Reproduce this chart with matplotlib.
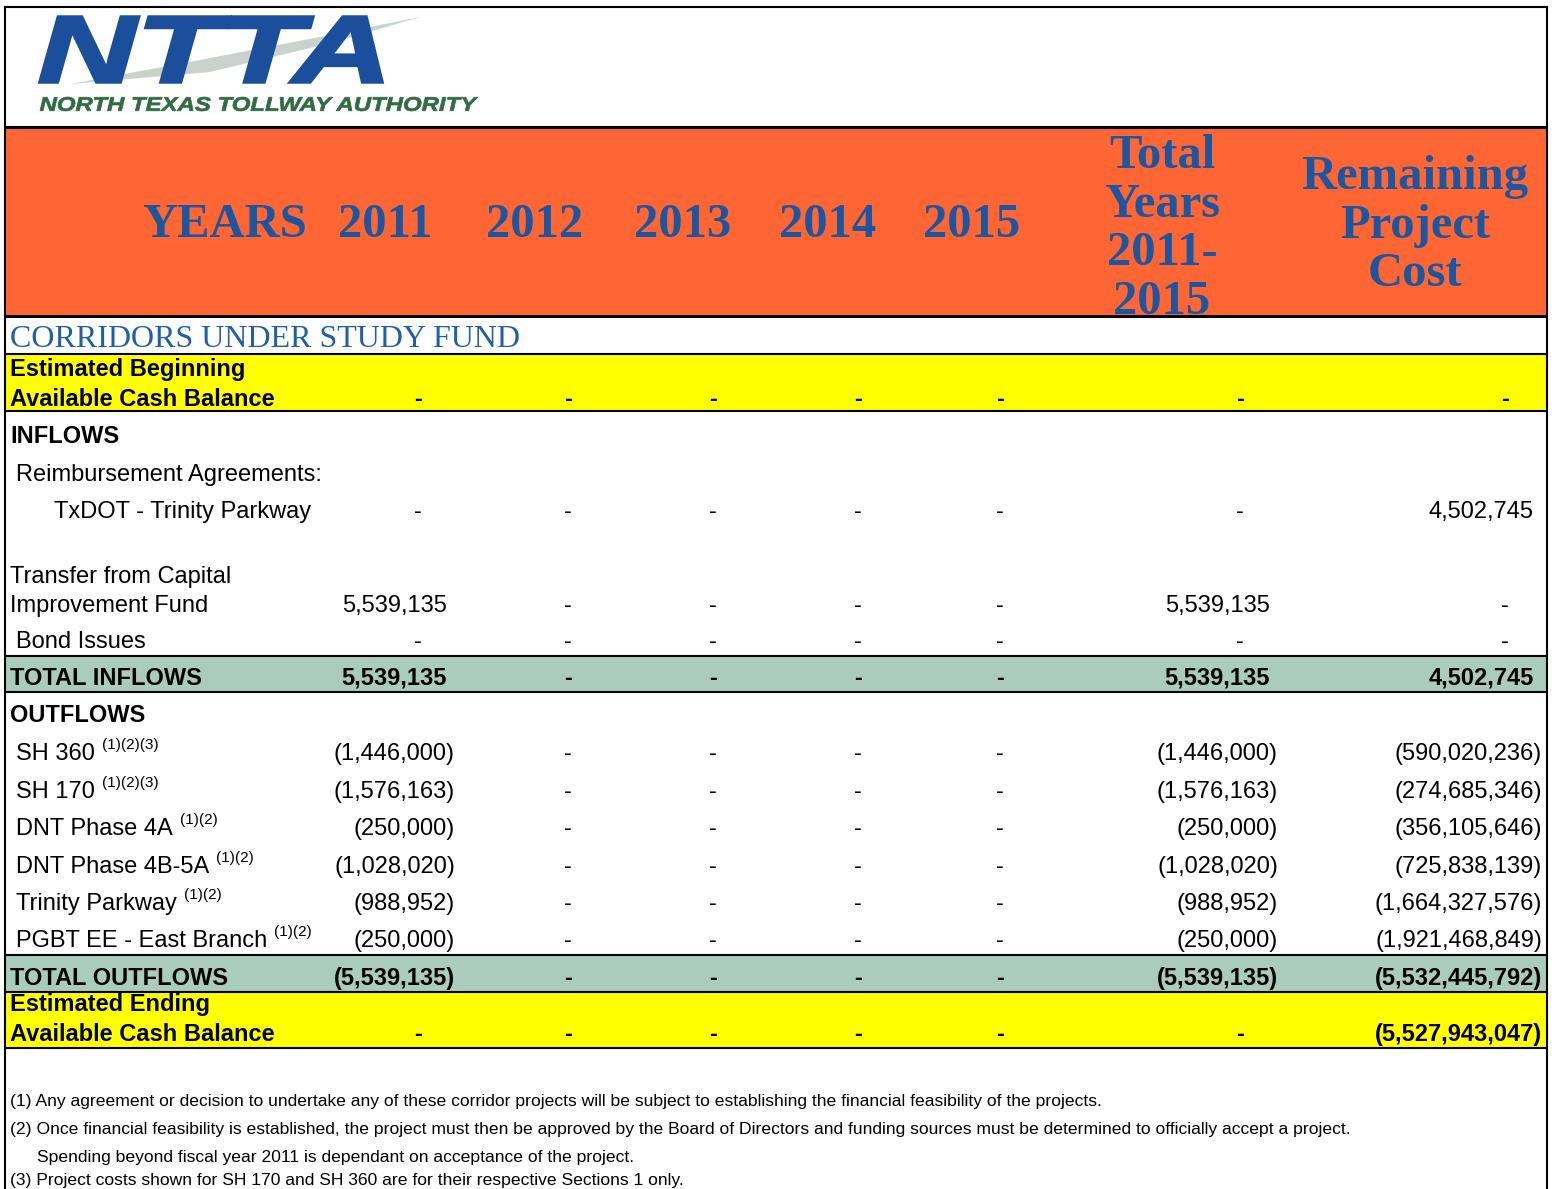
import matplotlib
matplotlib.use("Agg")
import matplotlib.pyplot as plt
from matplotlib.font_manager import FontProperties
from matplotlib.patches import PathPatch, Rectangle, Polygon
from matplotlib.textpath import TextPath
from matplotlib.transforms import Affine2D

# ---- data (columns: 2011..2015, total 2011-2015, remaining project cost) ----
years = ["2011", "2012", "2013", "2014", "2015"]
total_header = ["Total", "Years", "2011-", "2015"]
remaining_header = ["Remaining", "Project", "Cost"]

begin_balance = [0, 0, 0, 0, 0, 0, 0]
txdot_trinity = [0, 0, 0, 0, 0, 0, 4502745]
transfer_cif = [5539135, 0, 0, 0, 0, 5539135, 0]
bond_issues = [0, 0, 0, 0, 0, 0, 0]
total_inflows = [5539135, 0, 0, 0, 0, 5539135, 4502745]

outflow_labels = ["SH 360", "SH 170", "DNT Phase 4A", "DNT Phase 4B-5A",
                  "Trinity Parkway", "PGBT EE - East Branch"]
outflow_notes = ["(1)(2)(3)", "(1)(2)(3)", "(1)(2)", "(1)(2)", "(1)(2)", "(1)(2)"]
outflow_2011 = [-1446000, -1576163, -250000, -1028020, -988952, -250000]
outflow_total = [-1446000, -1576163, -250000, -1028020, -988952, -250000]
outflow_remaining = [-590020236, -274685346, -356105646, -725838139,
                     -1664327576, -1921468849]
total_outflows = [-5539135, 0, 0, 0, 0, -5539135, -5532445792]
end_balance = [0, 0, 0, 0, 0, 0, -5527943047]

footnotes = [
    "(1) Any agreement or decision to undertake any of these corridor projects will be subject to establishing the financial feasibility of the projects.",
    "(2) Once financial feasibility is established, the project must then be approved by the Board of Directors and funding sources must be determined to officially accept a project.",
    "Spending beyond fiscal year 2011 is dependant on acceptance of the project.",
    "(3) Project costs shown for SH 170 and SH 360 are for their respective Sections 1 only.",
]

# ---- layout (pixel coordinates) ----
W, H = 1556, 1189
ORANGE = "#FF6633"
HEAD_BLUE = "#1C56A0"
YELLOW = "#FFFF00"
BAND = "#A9CCBC"
BODY = "Liberation Sans"
BODY_SIZE = 17

dash_x = [418, 568, 713, 858, 1000, 1240, 1505]
pos_right = [447, 597, 742, 887, 1029, 1270, 1534]

fig = plt.figure(figsize=(W / 100, H / 100), dpi=100)
ax = fig.add_axes([0, 0, 1, 1])
ax.set_xlim(0, W)
ax.set_ylim(H, 0)
ax.axis("off")


def fit_text(s, x0, y0, x1, y1, color, lw=0, **fontkw):
    tp = TextPath((0, 0), s, size=100, prop=FontProperties(**fontkw))
    bb = tp.get_extents()
    tr = (Affine2D().translate(-bb.x0, -bb.y0)
          .scale((x1 - x0) / bb.width, -(y1 - y0) / bb.height)
          .translate(x0, y1))
    ax.add_patch(PathPatch(tr.transform_path(tp), fc=color, ec=color, lw=lw, zorder=3))


def hline(y, lw=1.5):
    ax.plot([5, 1547], [y, y], color="black", lw=lw, solid_capstyle="butt", zorder=4)


def fmt_value(v, col, y, bold=False):
    weight = "bold" if bold else "normal"
    if v == 0:
        ax.text(dash_x[col], y, "-", ha="center", va="baseline", family=BODY,
                fontsize=BODY_SIZE, weight=weight)
    elif v > 0:
        ax.text(pos_right[col], y, f"{v:,}", ha="right", va="baseline", family=BODY,
                fontsize=BODY_SIZE, weight=weight)
    else:
        ax.text(pos_right[col] + 8, y, f"({-v:,})", ha="right", va="baseline",
                family=BODY, fontsize=BODY_SIZE, weight=weight)


def value_row(values, y, bold=False):
    for i, v in enumerate(values):
        fmt_value(v, i, y, bold)


def label(s, x, y, bold=False, size=BODY_SIZE):
    return ax.text(x, y, s, ha="left", va="baseline", family=BODY, fontsize=size,
                   weight="bold" if bold else "normal")


# ---- logo ----
ax.add_patch(Polygon([[70, 84], [200, 60], [330, 35], [420, 17], [335, 42], [210, 72]],
                     closed=True, fc="#C9D3CB", ec="none", zorder=2))
fit_text("NTTA", 40, 17, 382, 82, "#1B4F9C", lw=2.5, family="Liberation Sans",
         weight="bold", style="italic")
fit_text("NORTH TEXAS TOLLWAY AUTHORITY", 40, 97, 478, 111, "#2F6B45", lw=0.5,
         family="Liberation Sans", weight="bold", style="italic")

# ---- header band ----
ax.add_patch(Rectangle((5, 127), 1542, 189, fc=ORANGE, ec="none", zorder=1))
head_kw = dict(family="Liberation Serif", weight="bold", fontsize=35, color=HEAD_BLUE,
               ha="center", va="baseline")
ax.text(225, 237, "YEARS", **head_kw)
for yr, xc in zip(years, [385, 535, 683, 828, 972]):
    ax.text(xc, 237, yr, **head_kw)
for s, yb in zip(total_header, [168, 217, 265, 314]):
    ax.text(1162, yb, s, **head_kw)
for s, yb in zip(remaining_header, [189, 238, 286]):
    ax.text(1415, yb, s, **head_kw)

# ---- fund title ----
ax.text(10, 347, "CORRIDORS UNDER STUDY FUND", family="Liberation Serif", fontsize=23,
        color="#1F5EA8", ha="left", va="baseline")

# ---- row bands ----
ax.add_patch(Rectangle((5, 354), 1542, 57, fc=YELLOW, ec="none", zorder=0))
ax.add_patch(Rectangle((5, 656), 1542, 36, fc=BAND, ec="none", zorder=0))
ax.add_patch(Rectangle((5, 955), 1542, 37, fc=BAND, ec="none", zorder=0))
ax.add_patch(Rectangle((5, 992), 1542, 56, fc=YELLOW, ec="none", zorder=0))

# beginning balance
label("Estimated Beginning", 10, 376, bold=True)
label("Available Cash Balance", 10, 406, bold=True)
value_row(begin_balance, 406, bold=True)

# inflows
label("INFLOWS", 10, 443, bold=True)
label("Reimbursement Agreements:", 16, 481)
label("TxDOT - Trinity Parkway", 54, 518)
value_row(txdot_trinity, 518)
label("Transfer from Capital", 10, 583)
label("Improvement Fund", 10, 612)
value_row(transfer_cif, 612)
label("Bond Issues", 16, 648)
value_row(bond_issues, 648)
label("TOTAL INFLOWS", 10, 685, bold=True)
value_row(total_inflows, 685, bold=True)

# outflows
label("OUTFLOWS", 10, 722, bold=True)
fig.canvas.draw()
renderer = fig.canvas.get_renderer()
row_y = [760, 798, 835, 873, 910, 947]
for name, note, v11, vt, vr, y in zip(outflow_labels, outflow_notes, outflow_2011,
                                      outflow_total, outflow_remaining, row_y):
    t = label(name, 16, y)
    right = t.get_window_extent(renderer).x1
    ax.text(right + 7, y - 11, note, ha="left", va="baseline", family=BODY, fontsize=11)
    value_row([v11, 0, 0, 0, 0, vt, vr], y)
label("TOTAL OUTFLOWS", 10, 985, bold=True)
value_row(total_outflows, 985, bold=True)

# ending balance
label("Estimated Ending", 10, 1011, bold=True)
label("Available Cash Balance", 10, 1041, bold=True)
value_row(end_balance, 1041, bold=True)

# footnotes
for s, xb, yb in zip(footnotes, [10, 10, 37, 10], [1106, 1134, 1162, 1185]):
    ax.text(xb, yb, s, ha="left", va="baseline", family=BODY, fontsize=12.6)

# ---- rules and border ----
hline(127, 2.2)
hline(316, 2.2)
for y in [354, 411, 656, 692, 955, 992, 1048]:
    hline(y, 1.5)
ax.plot([5, 1547], [7, 7], color="black", lw=1.5, zorder=4)
ax.plot([5, 5], [7, H], color="black", lw=1.5, zorder=4)
ax.plot([1547, 1547], [7, H], color="black", lw=1.5, zorder=4)

fig.savefig("out.png", dpi=100, facecolor="white")
